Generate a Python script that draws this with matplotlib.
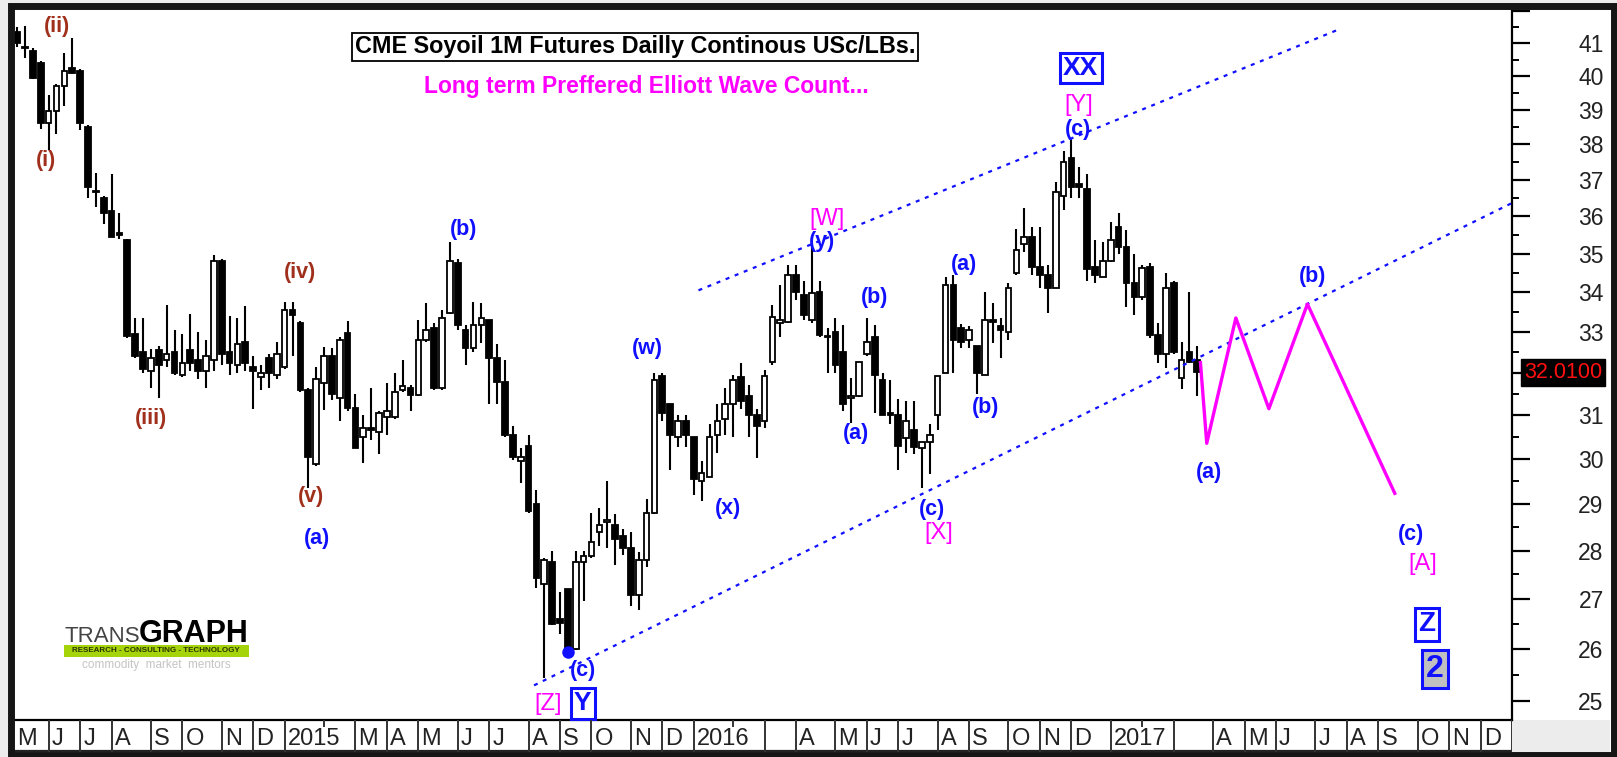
import matplotlib
matplotlib.use("Agg")
import matplotlib.pyplot as plt
import matplotlib.ticker as mticker
import matplotlib.transforms as mtrans
from matplotlib.patches import Rectangle
import numpy as np
import pandas as pd

plt.rcParams['font.family'] = ['Liberation Sans', 'DejaVu Sans']

# weekly bars (week ending friday), chart runs out to end of 2017
weeks = pd.date_range('2014-05-09', periods=191, freq='W-FRI')

opens = [41.35, 40.9, 40.75, 40.4, 38.6, 38.95, 39.7, 40.25, 40.15, 38.5,
         36.7, 36.5, 36.15, 35.55, 35.35, 32.95, 32.5, 32.05, 32.55, 32.3,
         32.5, 31.95, 32.55, 32.3, 32.05, 32.3, 34.8, 32.5, 32.2, 32.75,
         32.15, 31.9, 32.35, 31.95, 32.15, 33.55, 33.22, 31.6, 29.88, 31.75,
         32.4, 31.4, 32.98, 31.17, 30.5, 30.7, 30.6, 30.95, 30.95, 31.6,
         31.65, 31.48, 32.8, 33.1, 31.63, 33.48, 34.75, 33.05, 32.6, 33.18,
         33.3, 32.37, 31.78, 30.53, 29.96, 30.3, 29.0, 27.3, 27.75, 26.6,
         27.2, 26.0, 27.75, 27.88, 28.4, 28.6, 28.55, 28.3, 28.06, 27.08,
         27.8, 28.8, 31.92, 31.27, 30.5, 30.87, 30.5, 29.5, 29.6, 30.55,
         30.9, 31.27, 31.9, 31.45, 31.0, 30.87, 32.27, 33.22, 33.25, 34.45,
         33.92, 33.3, 34.0, 32.9, 33.0, 32.5, 31.4, 31.45, 32.45, 32.88,
         31.83, 31.05, 31.0, 30.47, 30.65, 30.25, 30.38, 31.0, 32.0, 34.18,
         33.1, 32.8, 32.65, 31.95, 33.3, 33.15, 33.0, 34.5, 35.25, 35.45,
         34.65, 34.45, 34.12, 36.55, 37.6, 36.87, 36.75, 34.65, 34.4, 34.8,
         35.7, 35.18, 34.25, 33.88, 34.65, 32.93, 32.45, 34.25, 31.88, 32.5,
         32.3]
highs = [41.5, 41.55, 40.85, 40.45, 39.45, 39.75, 40.7, 41.15, 40.2, 38.55,
         37.2, 36.55, 37.15, 36.1, 35.4, 33.35, 33.35, 32.57, 32.65, 33.68,
         33.05, 32.95, 33.45, 33.0, 32.8, 34.97, 34.85, 33.4, 33.35, 33.65,
         32.4, 32.2, 32.45, 32.75, 33.76, 33.75, 33.28, 31.65, 32.15, 32.63,
         32.6, 32.88, 33.28, 31.5, 31.0, 31.65, 31.1, 31.77, 32.0, 32.3,
         31.72, 33.3, 33.72, 33.22, 33.55, 35.3, 34.85, 33.18, 33.75, 33.72,
         33.3, 32.7, 32.3, 30.75, 30.25, 30.53, 29.3, 27.85, 28.0, 27.15,
         27.2, 28.0, 28.0, 28.8, 28.9, 29.5, 28.78, 28.45, 28.4, 27.97,
         29.1, 32.0, 32.0, 31.27, 31.0, 31.0, 30.5, 29.95, 30.8, 31.25,
         31.65, 31.95, 32.25, 31.7, 31.15, 32.08, 33.68, 34.18, 34.7, 34.7,
         34.3, 35.18, 34.3, 33.1, 33.35, 33.18, 31.88, 32.27, 33.35, 33.18,
         32.0, 31.83, 31.38, 31.33, 31.33, 30.38, 30.8, 31.92, 34.4, 34.45,
         33.2, 33.15, 32.65, 34.0, 33.72, 33.35, 34.25, 35.65, 36.22, 35.7,
         35.7, 34.7, 36.95, 37.8, 38.17, 37.35, 37.15, 35.35, 35.3, 35.85,
         36.1, 35.62, 35.0, 34.7, 34.75, 33.22, 34.5, 34.3, 32.75, 34.0,
         32.65]
lows = [40.9, 40.55, 39.9, 38.45, 37.85, 38.3, 39.1, 40.05, 38.4, 36.5,
        36.25, 35.8, 35.45, 35.4, 32.85, 32.35, 32.0, 31.63, 31.4, 32.15,
        31.95, 31.9, 32.05, 31.85, 31.65, 32.05, 32.2, 31.95, 32.0, 32.05,
        31.15, 31.6, 31.65, 31.85, 32.1, 32.4, 31.55, 29.35, 29.83, 31.12,
        31.35, 30.87, 31.1, 30.25, 29.9, 30.42, 30.1, 30.53, 30.9, 31.55,
        31.1, 31.45, 32.75, 31.6, 31.6, 33.45, 33.05, 32.2, 32.5, 32.72,
        31.27, 31.27, 30.5, 29.98, 29.45, 28.8, 27.22, 25.45, 26.48, 26.3,
        25.95, 25.98, 26.95, 27.85, 28.1, 28.05, 27.7, 27.9, 26.85, 26.78,
        27.65, 28.78, 30.87, 29.75, 30.27, 30.27, 29.2, 29.07, 29.6, 30.13,
        30.55, 30.5, 31.15, 30.5, 30.02, 30.7, 32.2, 32.88, 33.22, 33.8,
        33.3, 33.22, 32.88, 32.0, 32.0, 31.1, 30.82, 31.42, 32.4, 31.05,
        31.0, 30.8, 29.75, 30.13, 30.1, 29.34, 29.65, 30.65, 32.0, 32.0,
        32.6, 32.6, 31.5, 31.95, 32.72, 32.37, 32.8, 34.45, 35.05, 34.45,
        34.12, 33.48, 34.12, 36.17, 36.5, 36.5, 34.3, 34.25, 34.4, 34.78,
        35.0, 33.62, 33.42, 33.8, 32.85, 32.25, 32.12, 32.45, 31.62, 32.25,
        31.45]
closes = [41.0, 40.85, 39.95, 38.6, 38.95, 39.7, 40.15, 40.1, 38.6, 36.8,
          36.65, 36.1, 35.45, 35.5, 32.9, 32.4, 32.1, 32.37, 32.2, 32.45,
          32.0, 32.25, 32.25, 32.05, 32.4, 34.8, 32.45, 32.25, 32.7, 32.25,
          32.05, 32.0, 32.0, 32.45, 33.55, 33.42, 31.6, 30.05, 31.85, 32.4,
          31.5, 32.8, 31.17, 30.25, 30.7, 30.65, 31.05, 31.1, 31.55, 31.68,
          31.48, 32.8, 33.05, 31.63, 33.35, 34.8, 33.18, 32.6, 33.18, 33.35,
          32.37, 31.78, 30.53, 30.04, 30.05, 28.85, 27.43, 27.8, 26.5, 26.52,
          26.02, 27.75, 27.88, 28.18, 28.55, 28.65, 28.25, 28.06, 27.08, 27.8,
          28.8, 31.83, 31.05, 30.55, 30.87, 30.55, 29.55, 29.68, 30.5, 30.87,
          31.25, 31.83, 31.33, 31.0, 30.75, 31.92, 33.37, 33.3, 34.45, 34.0,
          33.42, 33.97, 32.92, 32.88, 32.2, 31.27, 31.45, 32.27, 32.75, 31.95,
          31.0, 31.0, 30.3, 30.87, 30.27, 30.38, 30.55, 31.92, 34.18, 32.8,
          32.75, 33.05, 32.0, 33.3, 33.25, 33.05, 34.12, 35.1, 35.45, 34.65,
          34.45, 34.1, 36.67, 37.5, 36.8, 36.8, 34.6, 34.45, 34.8, 35.35,
          35.18, 34.25, 33.88, 34.62, 32.93, 32.45, 34.1, 32.5, 32.3, 32.27,
          32.01]
last_price = 32.01

# projected wave path (week index, price)
proj_x = [150.4, 151.2, 154.9, 159.1, 164.0, 175.1]
proj_y = [32.25, 30.35, 33.35, 31.15, 33.7, 29.23]

# channel lines
upper_x = [86.6, 168.1]
upper_y = [34.05, 41.44]
lower_x = [65.7, 190.0]
lower_y = [25.30, 36.36]

month_labels = ['M', 'J', 'J', 'A', 'S', 'O', 'N', 'D',
                '2015', 'M', 'A', 'M', 'J', 'J', 'A', 'S', 'O', 'N', 'D',
                '2016', '', 'A', 'M', 'J', 'J', 'A', 'S', 'O', 'N', 'D',
                '2017', '', 'A', 'M', 'J', 'J', 'A', 'S', 'O', 'N', 'D']

wave_labels = [
    ('(ii)', 5.1, 41.53, 'brown'), ('(i)', 3.7, 37.55, 'brown'),
    ('(iii)', 17.0, 30.93, 'brown'), ('(iv)', 36.0, 34.52, 'brown'),
    ('(v)', 37.4, 29.17, 'brown'),
    ('(a)', 38.1, 28.26, 'blue'), ('(b)', 56.7, 35.65, 'blue'),
    ('(c)', 71.9, 25.59, 'blue'), ('(w)', 80.1, 32.6, 'blue'),
    ('(x)', 90.3, 28.9, 'blue'), ('(y)', 102.3, 35.33, 'blue'),
    ('(a)', 106.6, 30.58, 'blue'), ('(b)', 109.0, 33.87, 'blue'),
    ('(c)', 116.3, 28.88, 'blue'), ('(a)', 120.3, 34.72, 'blue'),
    ('(b)', 123.1, 31.18, 'blue'), ('(c)', 134.9, 38.43, 'blue'),
    ('(a)', 151.5, 29.7, 'blue'), ('(b)', 164.7, 34.41, 'blue'),
    ('(c)', 177.1, 28.34, 'blue'),
    ('[Z]', 67.5, 24.94, 'magenta'), ('[W]', 102.9, 35.92, 'magenta'),
    ('[X]', 117.2, 28.37, 'magenta'), ('[Y]', 134.9, 39.13, 'magenta'),
    ('[A]', 178.7, 27.71, 'magenta'),
]
boxed_labels = [('XX', 135.2, 40.24), ('Y', 71.9, 24.96), ('Z', 179.2, 26.49), ('2', 180.2, 25.61)]

W, H = 1617, 757
def fx(px):
    return px / W
def fy(py):
    return 1 - py / H

BLUE = '#1010ff'
MAG = '#ff00ff'
BROWN = '#a0301c'
colors = {'brown': BROWN, 'blue': BLUE, 'magenta': MAG}

fig = plt.figure(figsize=(W / 100, H / 100), dpi=100)
fig.patch.set_facecolor('#ececec')
fig.add_artist(Rectangle((fx(10), fy(756)), fx(1604), 750 / H, transform=fig.transFigure,
                         facecolor='white', edgecolor='none', zorder=-10))
fig.add_artist(Rectangle((fx(1512), fy(752)), fx(98), 32 / H, transform=fig.transFigure,
                         facecolor='#ececec', edgecolor='none', zorder=-5))

ax = fig.add_axes([fx(14), fy(720), (1512 - 14) / W, (720 - 9) / H])
xlim = (-0.4, 190)

# candles
x = np.arange(len(opens))
o, h, l, c = (np.array(v) for v in (opens, highs, lows, closes))
ax.vlines(x, l, h, color='black', lw=1.5, zorder=2)
up = c >= o
ax.bar(x[up], c[up] - o[up], bottom=o[up], width=0.72, color='white',
       edgecolor='black', lw=1.3, zorder=3)
ax.bar(x[~up], o[~up] - c[~up], bottom=c[~up], width=0.72, color='black',
       edgecolor='black', lw=1.3, zorder=3)

ax.plot(upper_x, upper_y, color=BLUE, lw=1.6, ls=(0, (1.8, 2.6)), zorder=4)
ax.plot(lower_x, lower_y, color=BLUE, lw=1.6, ls=(0, (1.8, 2.6)), zorder=4)
ax.plot(proj_x, proj_y, color=MAG, lw=2.4, zorder=4)
ax.plot(x[70], lows[70], 'o', color=BLUE, ms=8, zorder=5)

ax.set_yscale('log')
ax.set_xlim(*xlim)
ax.set_ylim(24.65, 42.07)

# 42 has no label and 32 sits under the last-price box
maj = np.arange(25, 43)
ax.yaxis.tick_right()
ax.yaxis.set_major_locator(mticker.FixedLocator(maj))
ax.yaxis.set_major_formatter(mticker.FixedFormatter(['' if v in (32, 42) else str(v) for v in maj]))
ax.yaxis.set_minor_locator(mticker.FixedLocator(np.arange(25.5, 42, 1.0)))
ax.yaxis.set_minor_formatter(mticker.NullFormatter())
ax.tick_params(axis='y', which='major', length=13, width=1.6, pad=53,
               labelsize=16.5, labelcolor='#222222')
ax.tick_params(axis='y', which='minor', length=5, width=1.4)
for t in ax.yaxis.get_major_ticks():
    t.label2.set_horizontalalignment('right')
ax.tick_params(axis='x', bottom=False, labelbottom=False)
for side in ('left', 'top'):
    ax.spines[side].set_visible(False)
ax.spines['right'].set_linewidth(1.6)
ax.spines['bottom'].set_linewidth(1.6)

for txt, lx, ly, kind in wave_labels:
    if kind == 'magenta':
        ax.text(lx, ly, txt, color=MAG, fontsize=17, ha='center', va='center')
    else:
        ax.text(lx, ly, txt, color=colors[kind], fontsize=15.5, fontweight='bold',
                ha='center', va='center')

box_sizes = {'XX': 19, 'Y': 19, 'Z': 20, '2': 23}
for txt, lx, ly in boxed_labels:
    ax.text(lx, ly, txt, color=BLUE, fontsize=box_sizes[txt], fontweight='bold',
            ha='center', va='center', zorder=6,
            bbox=dict(boxstyle='square,pad=0.12', fc='#c0c0c0' if txt == '2' else 'white',
                      ec=BLUE, lw=2.2))

trans = mtrans.blended_transform_factory(ax.transAxes, ax.transData)
ax.text(1.008, last_price, '32.0100', transform=trans, color='#ff1010', fontsize=15.5,
        ha='left', va='center', zorder=10,
        bbox=dict(boxstyle='square,pad=0.12', fc='black', ec='black'))

# month strip
sx = fig.add_axes([fx(14), fy(752), (1512 - 14) / W, 32 / H])
sx.set_xlim(*xlim)
sx.set_ylim(0, 1)
sx.axis('off')
bounds = [xlim[0]]
febs = []
for i in range(1, len(weeks)):
    if weeks[i].month != weeks[i - 1].month:
        if weeks[i].month == 2:
            febs.append(i)
        else:
            bounds.append(i)
sx.axhline(0.03, color='#222222', lw=1.6)
for b in bounds[1:] + [xlim[1]]:
    sx.axvline(b, color='#333333', lw=1.4)
for f in febs:
    sx.plot([f, f], [0.8, 1.0], color='#333333', lw=1.4)
for b, lab in zip(bounds, month_labels):
    sx.text(b + 0.4, 0.42, lab, fontsize=17, color='#222222', ha='left', va='center')

# title block
fig.text(fx(635), fy(47), 'CME Soyoil 1M Futures Dailly Continous USc/LBs.', fontsize=16.8,
         fontweight='bold', color='black', ha='center', va='center',
         bbox=dict(boxstyle='square,pad=0.12', fc='white', ec='black', lw=1.3))
fig.text(fx(646), fy(87), 'Long term Preffered Elliott Wave Count...', fontsize=16.5,
         fontweight='bold', color=MAG, ha='center', va='center')

# logo
fig.text(fx(64), fy(642), 'TRANS', fontsize=16, color='#444444', ha='left', va='baseline')
fig.text(fx(139), fy(642), 'GRAPH', fontsize=22, fontweight='bold', color='black',
         ha='left', va='baseline')
fig.add_artist(Rectangle((fx(64), fy(657)), fx(185), 12 / H, transform=fig.transFigure,
                         facecolor='#a5d40a', edgecolor='none'))
fig.text(fx(156), fy(651), 'RESEARCH - CONSULTING - TECHNOLOGY', fontsize=5.8,
         fontweight='bold', color='#2a3300', ha='center', va='center')
fig.text(fx(156), fy(665), 'commodity  market  mentors', fontsize=8.5, color='#c4c4c4',
         ha='center', va='center')

# outer frame
fig.add_artist(Rectangle((fx(10.5), fy(755)), fx(1603), 749.5 / H, transform=fig.transFigure,
                         fill=False, edgecolor='#151515', lw=5.0, zorder=20))

fig.savefig('out.png', dpi=100, facecolor=fig.get_facecolor())
